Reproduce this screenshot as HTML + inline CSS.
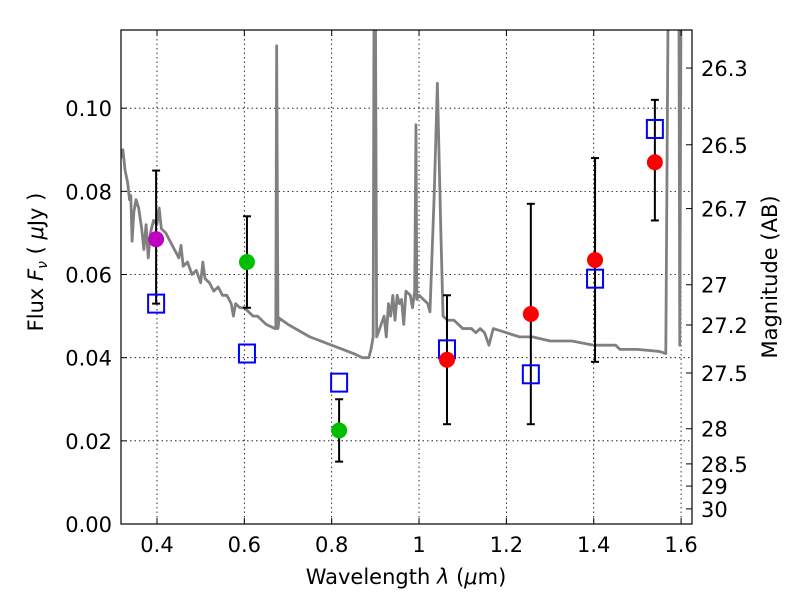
<!DOCTYPE html>
<html><head><meta charset="utf-8"><style>
body{margin:0;background:#fff}
svg{font-family:"DejaVu Sans","Liberation Sans",sans-serif}
</style></head><body>
<svg id="chart" width="800" height="600" viewBox="0 0 800 600">
<g id="grid"></g>
<g id="plot"></g>
<rect x="121" y="30" width="571" height="494" fill="none" stroke="#000" stroke-width="1.2"/>
<g id="axes"></g>
<text x="406" y="584" font-size="21" text-anchor="middle">Wavelength  <tspan font-style="italic">λ</tspan> (<tspan font-style="italic">μ</tspan>m)</text>
<text transform="translate(43,262) rotate(-90)" font-size="21" text-anchor="middle">Flux  <tspan font-style="italic">F<tspan font-size="14" dy="4">ν</tspan></tspan><tspan dy="-4">  (  </tspan><tspan font-style="italic">μ</tspan>Jy )</text>
<text transform="translate(777,277) rotate(-90)" font-size="21" text-anchor="middle">Magnitude (AB)</text>
</svg>
<script>
const xTicks=[0.4,0.6,0.8,1.0,1.2,1.4,1.6];
const xTickLabels=["0.4","0.6","0.8","1","1.2","1.4","1.6"];
const yTicks=[0,0.02,0.04,0.06,0.08,0.10];
const yTickLabels=["0.00","0.02","0.04","0.06","0.08","0.10"];
const magTicks=[26.3,26.5,26.7,27,27.2,27.5,28,28.5,29,30];
const specX=[0.318,0.322,0.327,0.333,0.337,0.340,0.343,0.347,0.352,0.358,0.365,0.370,0.375,0.380,0.385,0.392,0.400,0.405,0.41,0.42,0.43,0.44,0.45,0.455,0.46,0.47,0.48,0.49,0.50,0.505,0.51,0.52,0.53,0.54,0.55,0.56,0.57,0.575,0.58,0.59,0.60,0.61,0.62,0.63,0.64,0.65,0.67,0.672,0.674,0.677,0.68,0.70,0.75,0.80,0.85,0.87,0.885,0.89,0.895,0.897,0.90,0.903,0.91,0.92,0.925,0.93,0.935,0.94,0.945,0.95,0.955,0.96,0.965,0.97,0.98,0.985,0.99,0.993,0.995,1.00,1.02,1.025,1.035,1.042,1.05,1.055,1.065,1.08,1.10,1.12,1.13,1.14,1.15,1.16,1.17,1.20,1.23,1.26,1.30,1.35,1.40,1.45,1.46,1.50,1.55,1.565,1.57,1.59,1.595,1.597,1.60];
const specY=[0.088,0.090,0.085,0.082,0.078,0.079,0.068,0.075,0.078,0.076,0.071,0.066,0.072,0.064,0.070,0.073,0.072,0.076,0.071,0.070,0.068,0.066,0.064,0.067,0.062,0.063,0.060,0.061,0.058,0.063,0.059,0.058,0.056,0.057,0.055,0.055,0.053,0.050,0.053,0.052,0.052,0.051,0.050,0.050,0.049,0.048,0.047,0.047,0.115,0.047,0.0495,0.048,0.045,0.043,0.041,0.040,0.040,0.042,0.045,0.13,0.13,0.045,0.047,0.050,0.045,0.053,0.050,0.055,0.049,0.055,0.053,0.054,0.048,0.056,0.055,0.052,0.056,0.096,0.054,0.055,0.053,0.051,0.080,0.106,0.070,0.050,0.049,0.049,0.047,0.047,0.046,0.047,0.046,0.043,0.047,0.046,0.045,0.045,0.044,0.044,0.043,0.043,0.042,0.042,0.0415,0.041,0.12,0.13,0.13,0.043,0.13];
const ptX=[0.398,0.606,0.817,1.064,1.256,1.403,1.540];
const ptY=[0.0685,0.063,0.0225,0.0395,0.0505,0.0635,0.087];
const errLo=[0.053,0.052,0.015,0.024,0.024,0.039,0.073];
const errHi=[0.085,0.074,0.030,0.055,0.077,0.088,0.102];
const modelY=[0.053,0.041,0.034,0.042,0.036,0.059,0.095];
const ptColor=["#bf00bf","#00bf00","#00bf00","red","red","red","red"];
const NS="http://www.w3.org/2000/svg";
const X0=121,X1=692,Y0=524,Y1=30,xmin=0.3176,xmax=1.625,ymin=0,ymax=0.1188;
function sx(v){return X0+(v-xmin)/(xmax-xmin)*(X1-X0);}
function sy(v){return Y0-(v-ymin)/(ymax-ymin)*(Y0-Y1);}
function mk(tag,at,parent){const e=document.createElementNS(NS,tag);for(const k in at)e.setAttribute(k,at[k]);parent.appendChild(e);return e;}
const grid=document.getElementById('grid'),plot=document.getElementById('plot'),axes=document.getElementById('axes');
xTicks.forEach((t,i)=>{const x=sx(t);
 const g=mk('line',{x1:x,x2:x,y1:Y1,y2:Y0,stroke:'#000','stroke-dasharray':'1.5,3','stroke-width':0.8},grid);
 
 mk('line',{x1:x,x2:x,y1:Y0,y2:Y0-6,stroke:'#000'},axes);mk('line',{x1:x,x2:x,y1:Y1,y2:Y1+6,stroke:'#000'},axes);
 const tx=mk('text',{x:x,y:Y0+28,'font-size':21,'text-anchor':'middle'},axes);tx.textContent=xTickLabels[i];
 });
yTicks.forEach((t,i)=>{const y=sy(t);
 const g=mk('line',{x1:X0,x2:X1,y1:y,y2:y,stroke:'#000','stroke-dasharray':'1.5,3','stroke-width':0.8},grid);
 
 mk('line',{x1:X0,x2:X0+6,y1:y,y2:y,stroke:'#000'},axes);
 const tx=mk('text',{x:X0-9,y:y+8,'font-size':21,'text-anchor':'end'},axes);tx.textContent=yTickLabels[i];
 });
magTicks.forEach(m=>{const f=Math.pow(10,(23.9-m)/2.5);const y=sy(f);
 mk('line',{x1:X1,x2:X1-6,y1:y,y2:y,stroke:'#000'},axes);
 const tx=mk('text',{x:X1+9,y:y+8,'font-size':21},axes);tx.textContent=String(m);
 });
const cp=mk('clipPath',{id:'cp'},plot);mk('rect',{x:X0,y:Y1,width:X1-X0,height:Y0-Y1},cp);
const sp=mk('polyline',{points:specX.map((v,i)=>sx(v)+','+sy(specY[i])).join(' '),fill:'none',stroke:'#808080','stroke-width':2.8,'stroke-linejoin':'round','clip-path':'url(#cp)'},plot);

ptX.forEach((v,i)=>{const x=sx(v);
 const e=mk('g',{},plot);
 mk('line',{x1:x,x2:x,y1:sy(errLo[i]),y2:sy(errHi[i]),stroke:'#000','stroke-width':2},e);
 mk('line',{x1:x-4,x2:x+4,y1:sy(errLo[i]),y2:sy(errLo[i]),stroke:'#000','stroke-width':2},e);
 mk('line',{x1:x-4,x2:x+4,y1:sy(errHi[i]),y2:sy(errHi[i]),stroke:'#000','stroke-width':2},e);
 const s=mk('rect',{x:x-8,y:sy(modelY[i])-9,width:16,height:18,fill:'none',stroke:'#0000ff','stroke-width':2},plot);
 
 const c=mk('circle',{cx:x,cy:sy(ptY[i]),r:8,fill:ptColor[i]},plot);
 });
</script>
</body></html>
